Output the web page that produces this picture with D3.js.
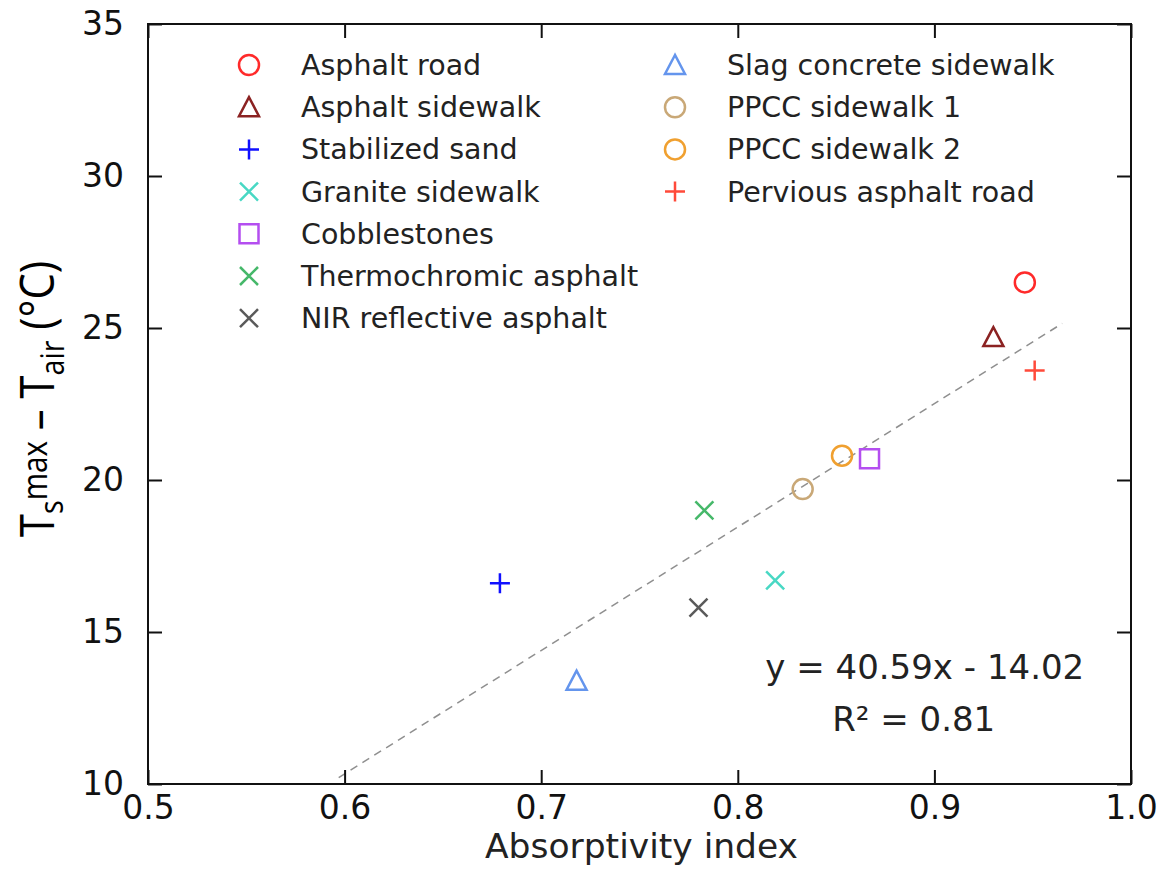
<!DOCTYPE html>
<html>
<head>
<meta charset="utf-8">
<script src="https://cdn.jsdelivr.net/npm/d3@7"></script>
<style>
  body { margin: 0; background: #fff; }
  svg { display: block; }
</style>
</head>
<body>
<svg width="1161" height="872"></svg>
<script>
// data
var surfaces = ["Asphalt road", "Asphalt sidewalk", "Stabilized sand", "Granite sidewalk",
                "Cobblestones", "Thermochromic asphalt", "NIR reflective asphalt",
                "Slag concrete sidewalk", "PPCC sidewalk 1", "PPCC sidewalk 2", "Pervious asphalt road"];
var absorptivity = [0.946, 0.930, 0.679, 0.819, 0.867, 0.783, 0.780, 0.718, 0.833, 0.853, 0.951];
var deltaT = [26.5, 24.7, 16.6, 16.7, 20.7, 19.0, 15.8, 13.4, 19.7, 20.8, 23.6];
var markers = ["circle", "triangle", "plus", "x", "square", "x", "x", "triangle", "circle", "circle", "plus"];
var colors = ["#ff2a2a", "#8b2222", "#1010ff", "#48d8c4", "#b44ef0", "#46b86a", "#5a5a5a",
              "#6495ed", "#c9a877", "#f0a030", "#ff4a3a"];

var xTicks = [0.5, 0.6, 0.7, 0.8, 0.9, 1.0];
var yTicks = [10, 15, 20, 25, 30, 35];

// trend line y = 40.59x - 14.02, drawn between these x values
var fitSlope = 40.59, fitIntercept = -14.02;
var fitRange = [0.597, 0.965];

var margin = {top: 24, right: 30, bottom: 88, left: 148},
    w = 1161 - margin.left - margin.right,
    h = 872 - margin.top - margin.bottom;

var svg = d3.select("svg");
var g = svg.append("g").attr("transform", "translate(" + margin.left + "," + margin.top + ")");

var xScale = d3.scaleLinear().domain([0.5, 1.0]).range([0, w]);
var yScale = d3.scaleLinear().domain([10, 35]).range([h, 0]);

var tickFont = "'DejaVu Sans', sans-serif";

function markerPath(type) {
    var s = 10;
    if (type == "circle") return "M" + s + ",0A" + s + "," + s + " 0 1,1 " + (-s) + ",0A" + s + "," + s + " 0 1,1 " + s + ",0Z";
    if (type == "triangle") return "M0," + (-s) + "L" + (-s) + "," + (s - 1) + "L" + s + "," + (s - 1) + "Z";
    if (type == "square") return "M-9.5,-9.5H9.5V9.5H-9.5Z";
    if (type == "plus") return "M-10,0H10M0,-10V10";
    if (type == "x") return "M-9,-9L9,9M-9,9L9,-9";
}

// trend line
var fitLine = d3.line()
    .x(function(d) { return xScale(d); })
    .y(function(d) { return yScale(fitSlope * d + fitIntercept); });

g.append("path")
    .datum(fitRange)
    .attr("d", fitLine)
    .attr("fill", "none")
    .attr("stroke", "#8f8f8f")
    .attr("stroke-width", 1.5)
    .attr("stroke-dasharray", "8,6");

// points
var points = surfaces.map(function(name, i) {
    return {name: name, x: absorptivity[i], y: deltaT[i], marker: markers[i], color: colors[i]};
});

g.selectAll(".pt").data(points)
    .enter().append("path")
    .attr("class", "pt")
    .attr("transform", function(d) { return "translate(" + xScale(d.x) + "," + yScale(d.y) + ")"; })
    .attr("d", function(d) { return markerPath(d.marker); })
    .attr("fill", "none")
    .attr("stroke", function(d) { return d.color; })
    .attr("stroke-width", 2.5);

// axes, ticks inward on all four sides
var axisStyle = function(sel) {
    sel.select(".domain").remove();
    sel.selectAll(".tick line").attr("stroke", "#111").attr("stroke-width", 2);
    sel.selectAll("text").style("font-family", tickFont).style("font-size", "33px").attr("fill", "#111");
};

g.append("g").attr("transform", "translate(0," + h + ")")
    .call(d3.axisBottom(xScale).tickValues(xTicks).tickFormat(d3.format(".1f")).tickSize(-14).tickPadding(12))
    .call(axisStyle);

g.append("g")
    .call(d3.axisLeft(yScale).tickValues(yTicks).tickFormat(d3.format("d")).tickSize(-14).tickPadding(24))
    .call(axisStyle);

g.append("g")
    .call(d3.axisTop(xScale).tickValues(xTicks).tickSize(-14).tickFormat(""))
    .call(axisStyle);

g.append("g").attr("transform", "translate(" + w + ",0)")
    .call(d3.axisRight(yScale).tickValues(yTicks).tickSize(-14).tickFormat(""))
    .call(axisStyle);

g.append("rect")
    .attr("width", w).attr("height", h)
    .attr("fill", "none").attr("stroke", "#111").attr("stroke-width", 2);

// axis labels
g.append("text")
    .attr("x", w / 2 + 2).attr("y", h + 74)
    .attr("text-anchor", "middle")
    .style("font-family", tickFont).style("font-size", "34.5px").attr("fill", "#222")
    .text("Absorptivity index");

var ylab = svg.append("text")
    .attr("transform", "translate(54,399) rotate(-90) scale(0.87,1)")
    .attr("text-anchor", "middle")
    .style("font-family", "'Open Sans', sans-serif").style("font-size", "48px").attr("fill", "#000");
ylab.append("tspan").text("T");
ylab.append("tspan").attr("dy", 9).style("font-size", "33px").text("s");
ylab.append("tspan").attr("dy", -16).style("font-size", "34px").text("max");
ylab.append("tspan").attr("dy", 7).text(" \u2013 T");
ylab.append("tspan").attr("dy", 10).style("font-size", "33px").text("air");
ylab.append("tspan").attr("dy", -10).text(" (\u00B0C)");

// regression text
var eqStyle = function(sel) {
    sel.style("font-family", tickFont).style("font-size", "34px").attr("fill", "#222");
};
g.append("text")
    .attr("x", xScale(0.814)).attr("y", yScale(13.45))
    .call(eqStyle)
    .text("y = 40.59x - 14.02");
g.append("text")
    .attr("x", xScale(0.848)).attr("y", yScale(11.75))
    .call(eqStyle)
    .text("R\u00B2 = 0.81");

// legend, two columns
var legendCols = [101, 527], legendTop = 41, legendStep = 42.2, perCol = 7;
var legend = g.selectAll(".leg").data(points)
    .enter().append("g")
    .attr("class", "leg")
    .attr("transform", function(d, i) {
        var col = Math.floor(i / perCol), row = i % perCol;
        return "translate(" + legendCols[col] + "," + (legendTop + row * legendStep) + ")";
    });

legend.append("path")
    .attr("d", function(d) { return markerPath(d.marker); })
    .attr("fill", "none")
    .attr("stroke", function(d) { return d.color; })
    .attr("stroke-width", 2.5);

legend.append("text")
    .attr("x", 52).attr("y", 10)
    .style("font-family", tickFont).style("font-size", "28.5px").attr("fill", "#222")
    .text(function(d) { return d.name; });
</script>
</body>
</html>
